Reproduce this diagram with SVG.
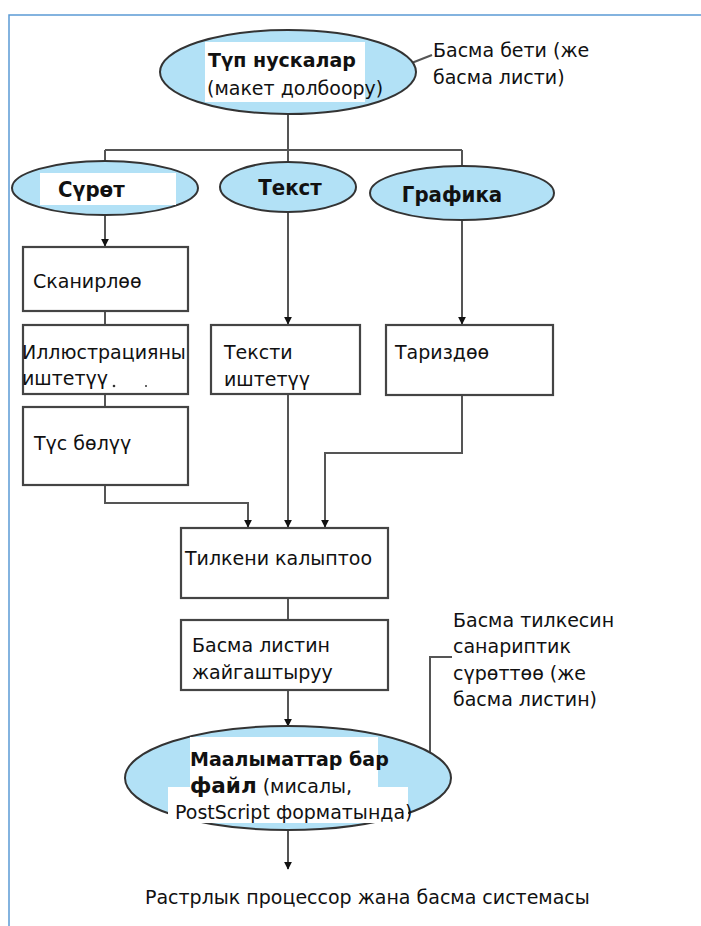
<svg xmlns="http://www.w3.org/2000/svg" width="701" height="926" viewBox="0 0 701 926">
<style>
.el{fill:#b2e1f6;stroke:#333;stroke-width:2}
.bx{fill:#fff;stroke:#444;stroke-width:2.2}
.ln{fill:none;stroke:#555;stroke-width:2}
.t{font-family:"DejaVu Sans",sans-serif;font-size:19px;fill:#111}
.b{font-weight:bold}
.c{font-family:"DejaVu Sans Condensed","DejaVu Sans",sans-serif;font-weight:bold;font-size:22px;fill:#111}
.wb{fill:#fff}
</style>
<defs>
<marker id="ar" viewBox="0 0 10 10" refX="9" refY="5" markerWidth="8" markerHeight="9" orient="auto" markerUnits="userSpaceOnUse">
<path d="M0,0 L10,5 L0,10 z" fill="#111"/>
</marker>
</defs>
<rect width="701" height="926" fill="#fff"/>
<path d="M9,926 V15 H701" fill="none" stroke="#5b9bd5" stroke-width="1.5"/>

<g id="connectors">
<path class="ln" d="M288,115 V150 M105,150 H462 M105,150 V162 M288,150 V162 M462,150 V166"/>
<path class="ln" d="M105,215 V246" marker-end="url(#ar)"/>
<path class="ln" d="M105,311 V325 M105,394 V407"/>
<path class="ln" d="M105,485 V503 H248 V527" marker-end="url(#ar)"/>
<path class="ln" d="M288,212 V324" marker-end="url(#ar)"/>
<path class="ln" d="M288,394 V527" marker-end="url(#ar)"/>
<path class="ln" d="M462,220 V324" marker-end="url(#ar)"/>
<path class="ln" d="M462,395 V453 H325 V527" marker-end="url(#ar)"/>
<path class="ln" d="M288,598 V620"/>
<path class="ln" d="M288,690 V726" marker-end="url(#ar)"/>
<path class="ln" d="M288,830 V869" marker-end="url(#ar)"/>
<path class="ln" d="M409,64 L432,55"/>
<path class="ln" d="M452,657 H430 V765"/>
</g>

<g id="n-top">
<ellipse class="el" cx="288" cy="72" rx="128" ry="42"/>
<rect class="wb" x="205" y="42" width="160" height="60"/>
<text class="t b" x="208" y="67" font-size="21">Түп нускалар</text>
<text class="t" x="207" y="95" font-size="19.5">(макет долбоору)</text>
</g>
<g id="n-top-note">
<text class="t" x="433" y="57" font-size="17.5">Басма бети (же</text>
<text class="t" x="433" y="84" font-size="17.5">басма листи)</text>
</g>

<g id="n-surot">
<ellipse class="el" cx="105" cy="188" rx="93" ry="27"/>
<rect class="wb" x="40" y="173" width="136" height="32"/>
<text class="c" x="58" y="197">Сүрөт</text>
</g>
<g id="n-tekst">
<ellipse class="el" cx="288" cy="187" rx="68" ry="25"/>
<text class="c" x="290" y="195" text-anchor="middle">Текст</text>
</g>
<g id="n-grafika">
<ellipse class="el" cx="462" cy="193" rx="92" ry="27"/>
<text class="c" x="452" y="202" text-anchor="middle">Графика</text>
</g>

<g id="n-skan">
<rect class="bx" x="23" y="247" width="165" height="64"/>
<text class="t" x="33" y="288">Сканирлөө</text>
</g>
<g id="n-illus">
<rect class="bx" x="23" y="325" width="165" height="69"/>
<text class="t" x="22" y="359">Иллюстрацияны</text>
<text class="t" x="22" y="385">иштетүү</text>
<circle cx="114" cy="386" r="1.3" fill="#333"/>
<circle cx="146" cy="386" r="1" fill="#333"/>
</g>
<g id="n-tus">
<rect class="bx" x="23" y="407" width="165" height="78"/>
<text class="t" x="34" y="450">Түс бөлүү</text>
</g>
<g id="n-tekst-i">
<rect class="bx" x="211" y="325" width="149" height="69"/>
<text class="t" x="224" y="359">Тексти</text>
<text class="t" x="224" y="386">иштетүү</text>
</g>
<g id="n-tariz">
<rect class="bx" x="386" y="325" width="167" height="70"/>
<text class="t" x="395" y="359">Тариздөө</text>
</g>
<g id="n-tilke">
<rect class="bx" x="181" y="528" width="207" height="70"/>
<text class="t" x="185" y="565">Тилкени калыптоо</text>
</g>
<g id="n-basma">
<rect class="bx" x="181" y="620" width="207" height="70"/>
<text class="t" x="192" y="652">Басма листин</text>
<text class="t" x="192" y="679">жайгаштыруу</text>
</g>
<g id="n-file">
<ellipse class="el" cx="288" cy="778" rx="163" ry="52"/>
<rect class="wb" x="190" y="737" width="188" height="50"/>
<rect class="wb" x="168" y="787" width="240" height="36"/>
<text class="t b" x="190" y="766" font-size="21.5">Маалыматтар бар</text>
<text class="t" x="190" y="793"><tspan class="b" font-size="21.5">файл</tspan> (мисалы,</text>
<text class="t" x="175" y="819" font-size="20.5">PostScript форматында)</text>
</g>
<g id="n-file-note">
<text class="t" x="453" y="627">Басма тилкесин</text>
<text class="t" x="453" y="653">санариптик</text>
<text class="t" x="453" y="680">сүрөттөө (же</text>
<text class="t" x="453" y="706">басма листин)</text>
</g>
<g id="n-rip">
<text class="t" x="145" y="904">Растрлык процессор жана басма системасы</text>
</g>
</svg>
